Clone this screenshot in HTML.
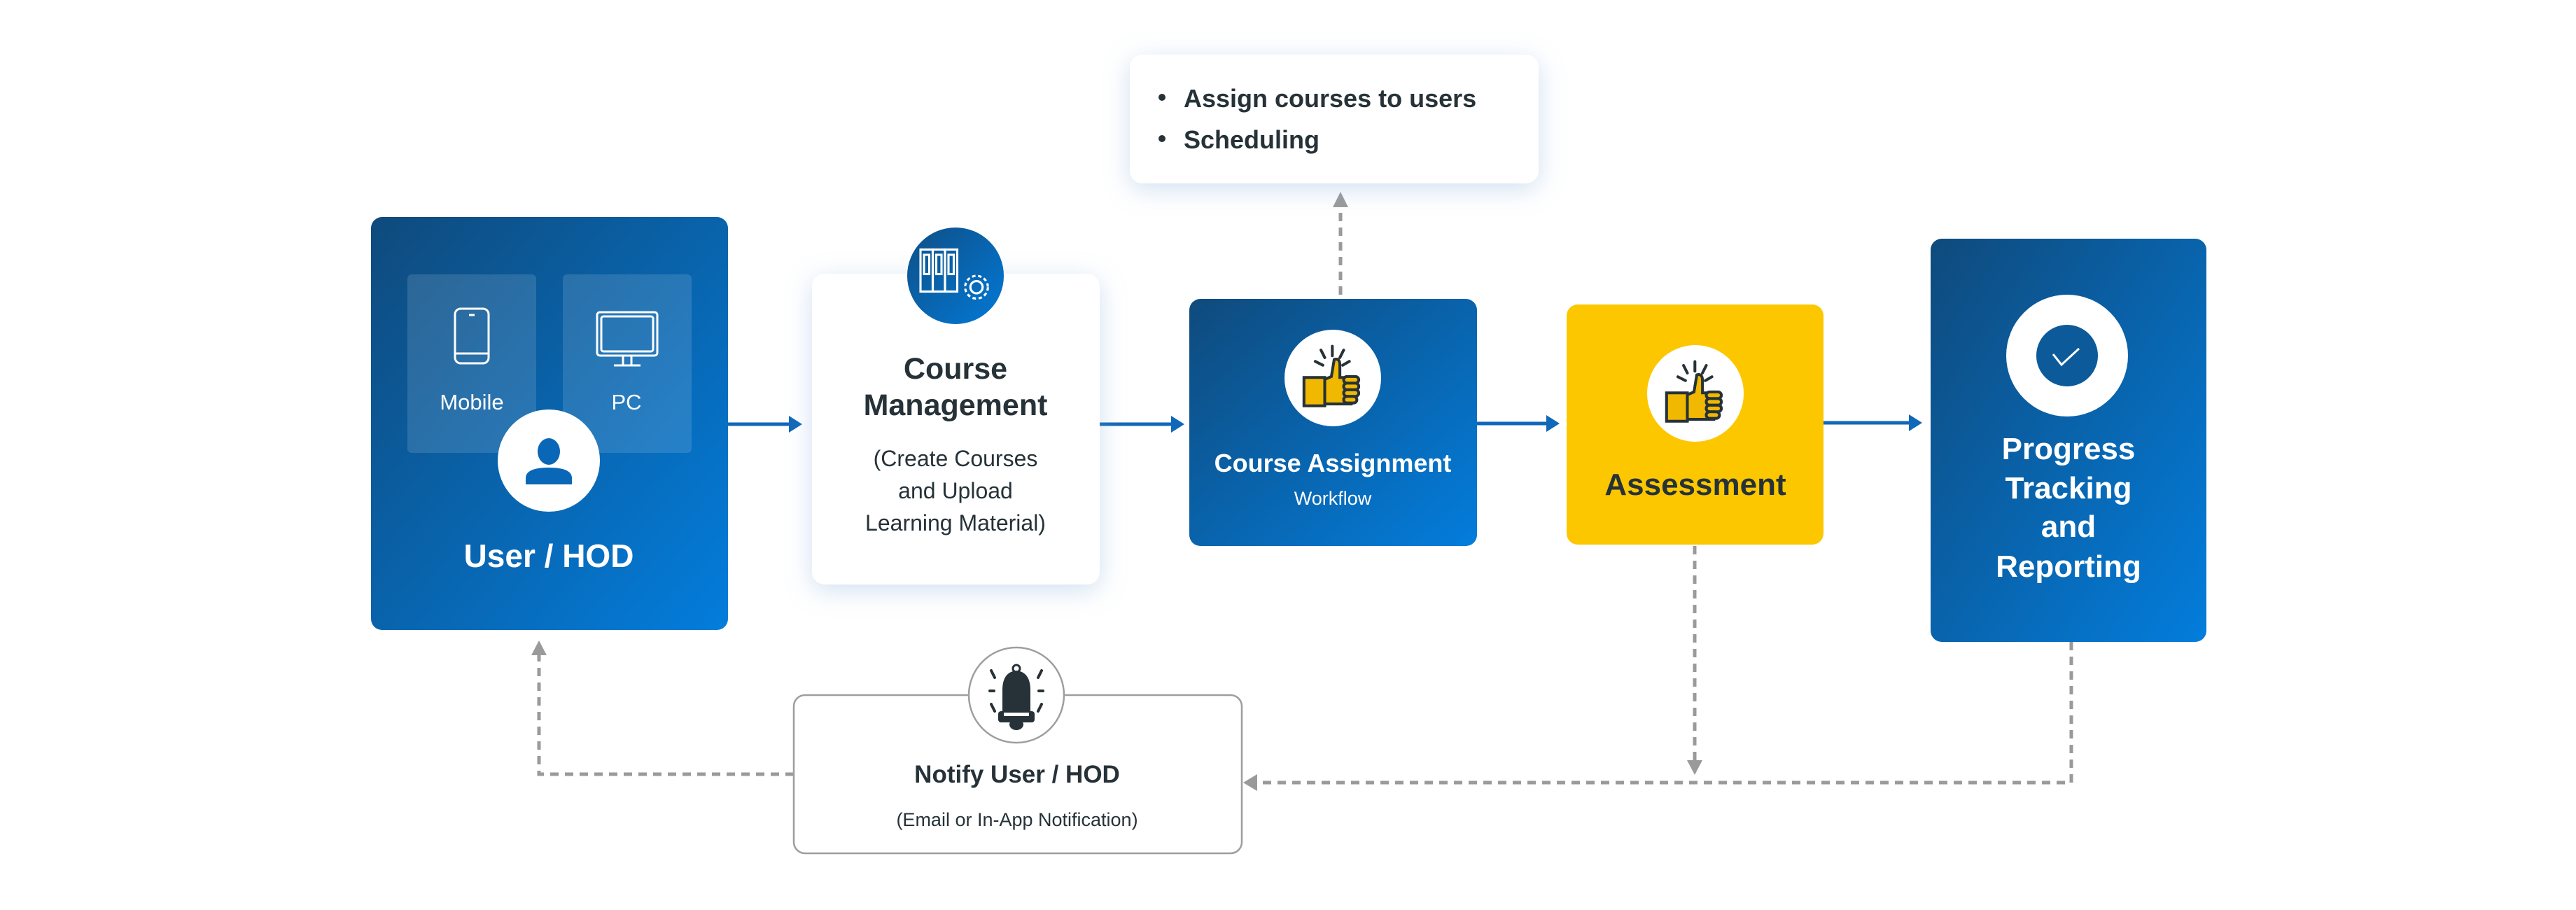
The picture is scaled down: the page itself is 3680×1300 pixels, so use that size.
<!DOCTYPE html>
<html><head><meta charset="utf-8"><style>
html,body{margin:0;padding:0;background:#fff;}
svg{display:block;}
text{font-family:"Liberation Sans",Arial,sans-serif;}
</style></head><body>
<svg width="3680" height="1300" viewBox="0 0 3680 1300" xmlns="http://www.w3.org/2000/svg">
<defs>
<linearGradient id="bg" x1="0" y1="0" x2="1" y2="1">
<stop offset="0" stop-color="#0f4a7c"/><stop offset="1" stop-color="#037ddc"/>
</linearGradient>
<linearGradient id="cg" x1="0" y1="0" x2="1" y2="1">
<stop offset="0" stop-color="#0f4f86"/><stop offset="1" stop-color="#0279d6"/>
</linearGradient>
<filter id="sh" x="-30%" y="-30%" width="160%" height="160%">
<feGaussianBlur in="SourceAlpha" stdDeviation="18"/>
<feOffset dy="8" result="b"/>
<feFlood flood-color="#7aa6d6" flood-opacity="0.35"/>
<feComposite in2="b" operator="in"/>
<feMerge><feMergeNode/><feMergeNode in="SourceGraphic"/></feMerge>
</filter>
<g id="thumb">
<g stroke="#263238" stroke-width="3" stroke-linecap="round">
<line x1="-2" y1="-38" x2="-2" y2="-28"/><line x1="-14" y1="-34" x2="-10" y2="-26"/><line x1="10" y1="-34" x2="6" y2="-26"/>
<line x1="-20" y1="-22" x2="-12" y2="-18"/><line x1="16" y1="-22" x2="9" y2="-18"/>
</g>
<rect x="-32" y="-5" width="22" height="30" fill="#f0b800" stroke="#263238" stroke-width="3"/>
<path d="M-10 -3 L-3 -6 L0 -24 Q6 -26 6 -18 L6 -5 L18 -5 L18 23 L-10 23 Z" fill="#f0b800" stroke="#263238" stroke-width="3"/>
<rect x="10" y="-6" width="16" height="7" rx="3.5" fill="#f0b800" stroke="#263238" stroke-width="3"/>
<rect x="10" y="1" width="16" height="7" rx="3.5" fill="#f0b800" stroke="#263238" stroke-width="3"/>
<rect x="10" y="8" width="16" height="7" rx="3.5" fill="#f0b800" stroke="#263238" stroke-width="3"/>
<rect x="10" y="15" width="14" height="7" rx="3.5" fill="#f0b800" stroke="#263238" stroke-width="3"/>
</g>
</defs>

<!-- connectors -->
<g stroke="#1167b8" stroke-width="5" fill="#1167b8">
<line x1="1040" y1="606" x2="1130" y2="606"/><polygon points="1146,606 1127,594 1127,618" stroke="none"/>
<line x1="1571" y1="606" x2="1676" y2="606"/><polygon points="1692,606 1673,594 1673,618" stroke="none"/>
<line x1="2110" y1="605" x2="2212" y2="605"/><polygon points="2228,605 2209,593 2209,617" stroke="none"/>
<line x1="2605" y1="604" x2="2730" y2="604"/><polygon points="2746,604 2727,592 2727,616" stroke="none"/>
</g>
<g stroke="#9a9a9a" stroke-width="5" fill="none" stroke-dasharray="12 9">
<line x1="1915" y1="421" x2="1915" y2="296"/>
<line x1="2421" y1="780" x2="2421" y2="1088"/>
<polyline points="2959,917 2959,1118 1795,1118"/>
<polyline points="1134,1106 770,1106 770,935"/>
</g>
<g fill="#9a9a9a">
<polygon points="1915,274 1904,296 1926,296"/>
<polygon points="2421,1107 2410,1086 2432,1086"/>
<polygon points="1776,1118 1796,1106 1796,1130"/>
<polygon points="770,915 759,936 781,936"/>
</g>

<!-- User/HOD -->
<rect x="530" y="310" width="510" height="590" rx="16" fill="url(#bg)"/>
<rect x="582" y="392" width="184" height="255" rx="6" fill="#ffffff" fill-opacity="0.13"/>
<rect x="804" y="392" width="184" height="255" rx="6" fill="#ffffff" fill-opacity="0.13"/>
<rect x="650" y="441" width="48" height="78" rx="8" fill="none" stroke="#fff" stroke-width="3"/>
<line x1="650" y1="505" x2="698" y2="505" stroke="#fff" stroke-width="3"/>
<line x1="670" y1="450" x2="678" y2="450" stroke="#fff" stroke-width="3"/>
<rect x="853" y="446" width="86" height="62" rx="4" fill="none" stroke="#fff" stroke-width="3"/>
<rect x="859" y="452" width="74" height="50" rx="3" fill="none" stroke="#fff" stroke-width="3"/>
<path d="M890 508 V521 M902 508 V521 M877 522 H915" stroke="#fff" stroke-width="3"/>
<text x="674" y="585" font-size="31" fill="#fff" text-anchor="middle">Mobile</text>
<text x="895" y="585" font-size="31" fill="#fff" text-anchor="middle">PC</text>
<circle cx="784" cy="658" r="73" fill="#fff"/>
<ellipse cx="784" cy="645" rx="16" ry="19" fill="#0a67b8"/>
<path d="M751 692 V683 Q751 668 784 668 Q817 668 817 683 V692 Z" fill="#0a67b8"/>
<text x="784" y="810" font-size="46" font-weight="bold" fill="#fff" text-anchor="middle">User / HOD</text>

<!-- Course Management -->
<rect x="1160" y="391" width="411" height="444" rx="18" fill="#fff" filter="url(#sh)"/>
<circle cx="1365" cy="394" r="69" fill="url(#cg)"/>
<g stroke="#fff" stroke-width="2.5" fill="none" transform="translate(1365 394) scale(1.25) translate(-1365 -394)">
<rect x="1325" y="364" width="14" height="48"/><rect x="1339" y="364" width="14" height="48"/><rect x="1353" y="364" width="14" height="48"/>
<rect x="1329" y="370" width="6" height="22"/><rect x="1343" y="370" width="6" height="22"/><rect x="1357" y="370" width="6" height="22"/>
<circle cx="1389" cy="407" r="7"/><circle cx="1389" cy="407" r="13" stroke-dasharray="4 3"/>
</g>
<text x="1365" y="541" font-size="43" font-weight="bold" fill="#263238" text-anchor="middle">Course</text>
<text x="1365" y="593" font-size="43" font-weight="bold" fill="#263238" text-anchor="middle">Management</text>
<text x="1365" y="666" font-size="32" fill="#263238" text-anchor="middle">(Create Courses</text>
<text x="1365" y="712" font-size="32" fill="#263238" text-anchor="middle">and Upload</text>
<text x="1365" y="758" font-size="32" fill="#263238" text-anchor="middle">Learning Material)</text>

<!-- bullet box -->
<rect x="1614" y="78" width="584" height="184" rx="18" fill="#fff" filter="url(#sh)"/>
<circle cx="1660" cy="139" r="5" fill="#263238"/>
<circle cx="1660" cy="198" r="5" fill="#263238"/>
<text x="1691" y="153" font-size="36" font-weight="bold" fill="#263238">Assign courses to users</text>
<text x="1691" y="212" font-size="36" font-weight="bold" fill="#263238">Scheduling</text>

<!-- Course Assignment -->
<rect x="1699" y="427" width="411" height="353" rx="16" fill="url(#bg)"/>
<circle cx="1904" cy="540" r="69" fill="#fff"/>
<use href="#thumb" transform="translate(1906 546) scale(1.35)"/>
<text x="1904" y="674" font-size="36" font-weight="bold" fill="#fff" text-anchor="middle">Course Assignment</text>
<text x="1904" y="721" font-size="27" fill="#fff" text-anchor="middle">Workflow</text>

<!-- Assessment -->
<rect x="2238" y="435" width="367" height="343" rx="16" fill="#fdc700"/>
<circle cx="2422" cy="562" r="69" fill="#fff"/>
<use href="#thumb" transform="translate(2424 568) scale(1.35)"/>
<text x="2422" y="707" font-size="44" font-weight="bold" fill="#263238" text-anchor="middle">Assessment</text>

<!-- Progress -->
<rect x="2758" y="341" width="394" height="576" rx="16" fill="url(#bg)"/>
<circle cx="2953" cy="508" r="87" fill="#fff"/>
<circle cx="2953" cy="508" r="44" fill="#0d5a9a"/>
<polyline points="2933,506 2945,521 2970,498" fill="none" stroke="#fff" stroke-width="3"/>
<text x="2955" y="656" font-size="44" font-weight="bold" fill="#fff" text-anchor="middle">Progress</text>
<text x="2955" y="712" font-size="44" font-weight="bold" fill="#fff" text-anchor="middle">Tracking</text>
<text x="2955" y="767" font-size="44" font-weight="bold" fill="#fff" text-anchor="middle">and</text>
<text x="2955" y="824" font-size="44" font-weight="bold" fill="#fff" text-anchor="middle">Reporting</text>

<!-- Notify -->
<rect x="1134" y="993" width="640" height="226" rx="16" fill="#fff" stroke="#9e9e9e" stroke-width="2.5"/>
<circle cx="1452" cy="993" r="68" fill="#fff" stroke="#9e9e9e" stroke-width="2.5"/>
<g fill="#263238" stroke="#263238">
<path d="M1432 1030 V986 Q1432 960 1452 958 Q1472 960 1472 986 V1030 Z" stroke="none"/>
<rect x="1426" y="1016" width="52" height="16" rx="4" stroke="none"/>
<rect x="1434" y="1018" width="36" height="5" fill="#fff" stroke="none"/>
<ellipse cx="1452" cy="1035" rx="10" ry="8" stroke="none"/>
<circle cx="1452" cy="955" r="5" fill="none" stroke-width="3"/>
<g stroke-width="4" stroke-linecap="round" fill="none">
<line x1="1416" y1="958" x2="1421" y2="968"/><line x1="1488" y1="958" x2="1483" y2="968"/>
<line x1="1414" y1="987" x2="1420" y2="987"/><line x1="1484" y1="987" x2="1490" y2="987"/>
<line x1="1416" y1="1006" x2="1421" y2="1016"/><line x1="1488" y1="1006" x2="1483" y2="1016"/>
</g>
</g>
<text x="1453" y="1118" font-size="35" font-weight="bold" fill="#263238" text-anchor="middle">Notify User / HOD</text>
<text x="1453" y="1180" font-size="27" fill="#263238" text-anchor="middle">(Email or In-App Notification)</text>
</svg>
</body></html>
